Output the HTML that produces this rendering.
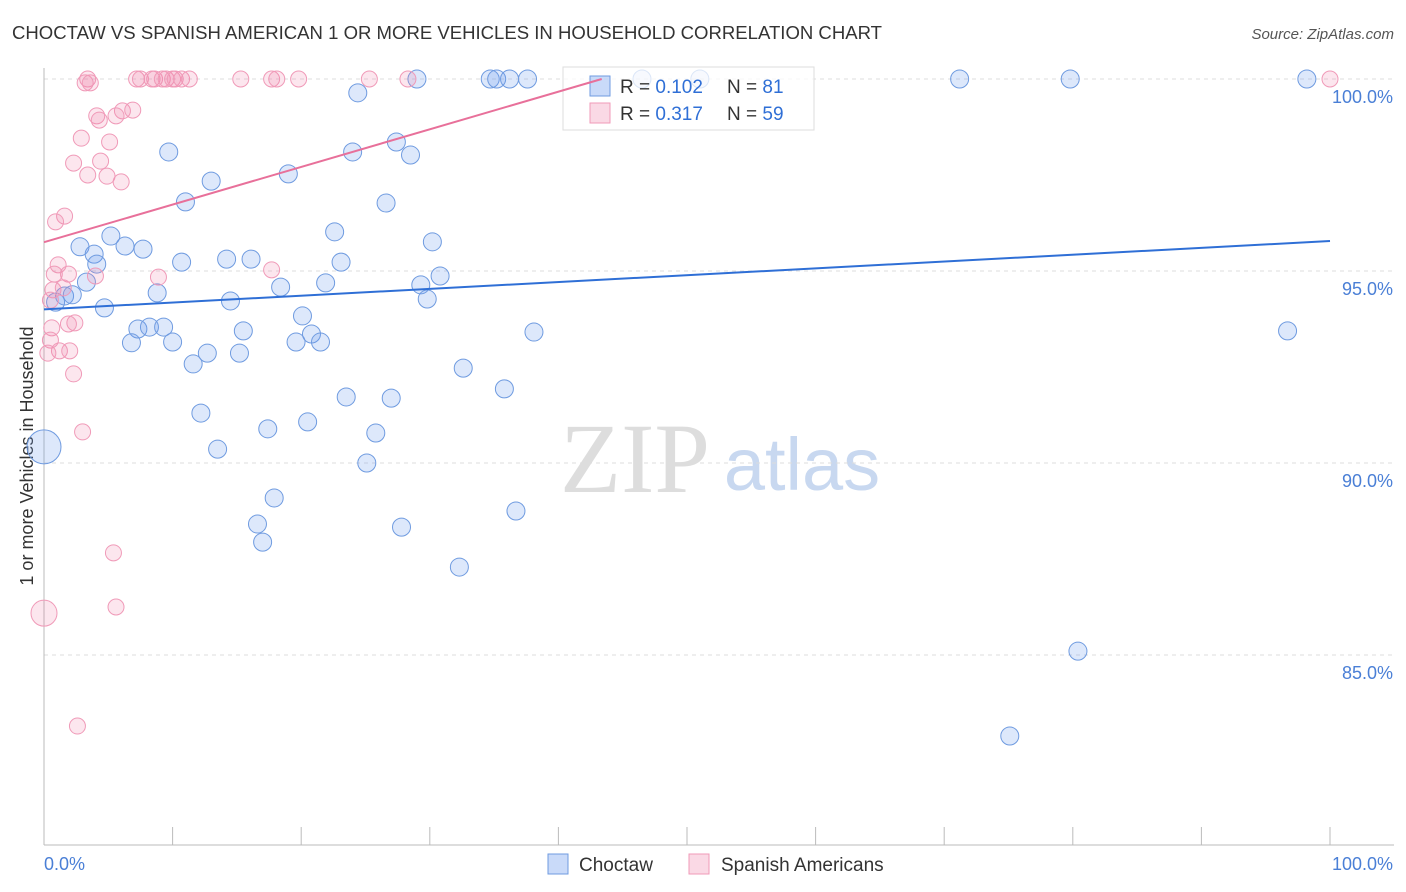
<!DOCTYPE html>
<html><head><meta charset="utf-8">
<style>
body{margin:0;background:#fff;font-family:"Liberation Sans",sans-serif;}
#wrap{position:relative;width:1406px;height:892px;overflow:hidden;}
</style></head>
<body>
<div id="wrap">
<svg id="svg" width="1406" height="892" xmlns="http://www.w3.org/2000/svg">
<text x="12" y="39" font-size="18.5" fill="#333" textLength="870" lengthAdjust="spacingAndGlyphs">CHOCTAW VS SPANISH AMERICAN 1 OR MORE VEHICLES IN HOUSEHOLD CORRELATION CHART</text>
<text x="1394" y="39" font-size="15" fill="#555" font-style="italic" text-anchor="end">Source: ZipAtlas.com</text>
<text x="33" y="456" font-size="18" fill="#333" text-anchor="middle" transform="rotate(-90 33 456)">1 or more Vehicles in Household</text>
<g>
<text x="635" y="492" font-size="100" fill="#ddd" font-family="Liberation Serif,serif" text-anchor="middle">ZIP</text>
<text x="802" y="490" font-size="74" fill="#c8d8f0" text-anchor="middle">atlas</text>
</g>
<g id="grid"></g>
<g id="axes"></g>
<g id="pts"></g>
<g>
<rect x="563" y="67" width="251" height="63" fill="rgba(255,255,255,0.75)" stroke="#ddd"/>
<rect x="590" y="76" width="20" height="20" fill="rgba(100,149,237,0.35)" stroke="#6f9be0"/>
<text x="620" y="93" font-size="19" fill="#333">R = <tspan fill="#2f6fd6">0.102</tspan></text>
<text x="727" y="93" font-size="19" fill="#333">N = <tspan fill="#2f6fd6"> 81</tspan></text>
<rect x="590" y="103" width="20" height="20" fill="rgba(240,130,170,0.3)" stroke="#f09ab8"/>
<text x="620" y="120" font-size="19" fill="#333">R = <tspan fill="#2f6fd6">0.317</tspan></text>
<text x="727" y="120" font-size="19" fill="#333">N = <tspan fill="#2f6fd6">59</tspan></text>
</g>
<g id="lines"></g>
<g>
<rect x="548" y="854" width="20" height="20" fill="rgba(100,149,237,0.35)" stroke="#6f9be0"/>
<text x="579" y="871" font-size="19" fill="#333">Choctaw</text>
<rect x="689" y="854" width="20" height="20" fill="rgba(240,130,170,0.3)" stroke="#f09ab8"/>
<text x="721" y="871" font-size="19" fill="#333">Spanish Americans</text>
</g>
</svg>
</div>
<script>
const blueX=[29.0,34.7,35.2,36.2,37.6,46.5,51.0,71.2,79.8,98.2,24.4,9.7,27.4,24.0,28.5,19.0,13.0,11.0,26.6,22.6,5.2,2.8,6.3,7.7,3.9,4.1,10.7,14.2,16.1,23.1,30.2,30.8,3.3,0.9,1.6,2.2,8.8,14.5,18.4,21.9,29.3,29.8,4.7,20.1,7.3,8.2,9.3,15.5,20.8,38.1,96.7,6.8,10.0,19.6,21.5,12.7,15.2,11.6,32.6,23.5,27.0,35.8,12.2,20.5,17.4,25.8,13.5,0,25.1,17.9,36.7,16.6,27.8,17.0,32.3,80.4,75.1];
const blueY=[100,100,100,100,100,100,100,100,100,100,99.64,98.10,98.36,98.10,98.02,97.53,97.34,96.80,96.77,96.02,95.91,95.63,95.65,95.57,95.44,95.18,95.23,95.31,95.31,95.23,95.76,94.87,94.71,94.19,94.35,94.38,94.43,94.22,94.58,94.69,94.64,94.27,94.04,93.83,93.49,93.54,93.54,93.44,93.36,93.41,93.44,93.13,93.15,93.15,93.15,92.86,92.86,92.58,92.47,91.72,91.69,91.93,91.30,91.07,90.89,90.78,90.36,90.42,90.00,89.09,88.75,88.41,88.33,87.94,87.29,85.10,82.89];
const blueR=blueX.map((x,i)=>i===67?17:9);
const pinkX=[3.4,3.2,3.6,7.2,7.5,8.4,8.6,9.2,9.5,10.0,10.2,10.7,11.3,15.3,17.7,18.1,19.8,25.3,28.3,100,4.1,4.3,6.1,5.6,6.9,2.9,5.1,2.3,4.4,3.4,4.9,6.0,1.6,0.9,1.1,0.8,1.9,4.0,8.9,17.7,0.7,1.5,0.5,0.6,2.4,1.9,0.5,1.2,0.3,2.0,2.3,3.0,5.4,5.6,0,2.6];
const pinkY=[100,99.9,99.9,100,100,100,100,100,100,100,100,100,100,100,100,100,100,100,100,100,99.04,98.93,99.17,99.04,99.19,98.46,98.36,97.81,97.86,97.50,97.47,97.32,96.43,96.28,95.16,94.92,94.92,94.87,94.84,95.03,94.51,94.56,94.24,93.52,93.65,93.62,93.20,92.92,92.86,92.92,92.32,90.81,87.66,86.25,86.09,83.15];
const pinkR=pinkX.map((x,i)=>i===54?13:8);
const yTicks=[100,95,90,85];
const yTickLabels=["100.0%","95.0%","90.0%","85.0%"];
const blueTrend=[94.0,95.78];
const pinkTrend=[95.75,0.098];
const NS="http://www.w3.org/2000/svg";
const sx=v=>44+v*12.86;
const sy=v=>79+(100-v)*38.4;
function mk(tag,attrs,parent){const e=document.createElementNS(NS,tag);for(const k in attrs)e.setAttribute(k,attrs[k]);document.getElementById(parent).appendChild(e);return e;}
yTicks.forEach((t,i)=>{
 const l=mk('line',{x1:44,x2:1394,y1:sy(t),y2:sy(t),stroke:'#ddd','stroke-dasharray':'4,4'},'grid');
 
 
 const tx=mk('text',{x:1393,y:sy(t)+24,'font-size':18,fill:'#4a7fd6','text-anchor':'end'},'grid');
 tx.textContent=yTickLabels[i];
 
 
});
let ax=mk('line',{x1:44,x2:44,y1:68,y2:845,stroke:'#bbb'},'axes');


ax=mk('line',{x1:44,x2:1394,y1:845,y2:845,stroke:'#bbb'},'axes');


for(let i=0;i<=10;i++){const t=mk('line',{x1:sx(i*10),x2:sx(i*10),y1:827,y2:845,stroke:'#bbb'},'axes');
 
 }
let xl=mk('text',{x:44,y:870,'font-size':18,fill:'#4a7fd6'},'axes');xl.textContent='0.0%';


xl=mk('text',{x:1393,y:870,'font-size':18,fill:'#4a7fd6','text-anchor':'end'},'axes');xl.textContent='100.0%';


blueX.forEach((x,i)=>{const c=mk('circle',{cx:sx(x),cy:sy(blueY[i]),r:blueR[i],fill:'rgba(100,149,237,0.22)',stroke:'#6f9be0','stroke-width':1},'pts');
 
 });
pinkX.forEach((x,i)=>{const c=mk('circle',{cx:sx(x),cy:sy(pinkY[i]),r:pinkR[i],fill:'rgba(240,130,170,0.2)',stroke:'#f09ab8','stroke-width':1},'pts');
 
 });
let bl=mk('line',{x1:sx(0),y1:sy(blueTrend[0]),x2:sx(100),y2:sy(blueTrend[1]),stroke:'#2f6fd6','stroke-width':2},'lines');


const pxEnd=(100-pinkTrend[0])/pinkTrend[1];
let pl=mk('line',{x1:sx(0),y1:sy(pinkTrend[0]),x2:sx(pxEnd),y2:sy(100),stroke:'#e8709a','stroke-width':2},'lines');


</script>
</body></html>
